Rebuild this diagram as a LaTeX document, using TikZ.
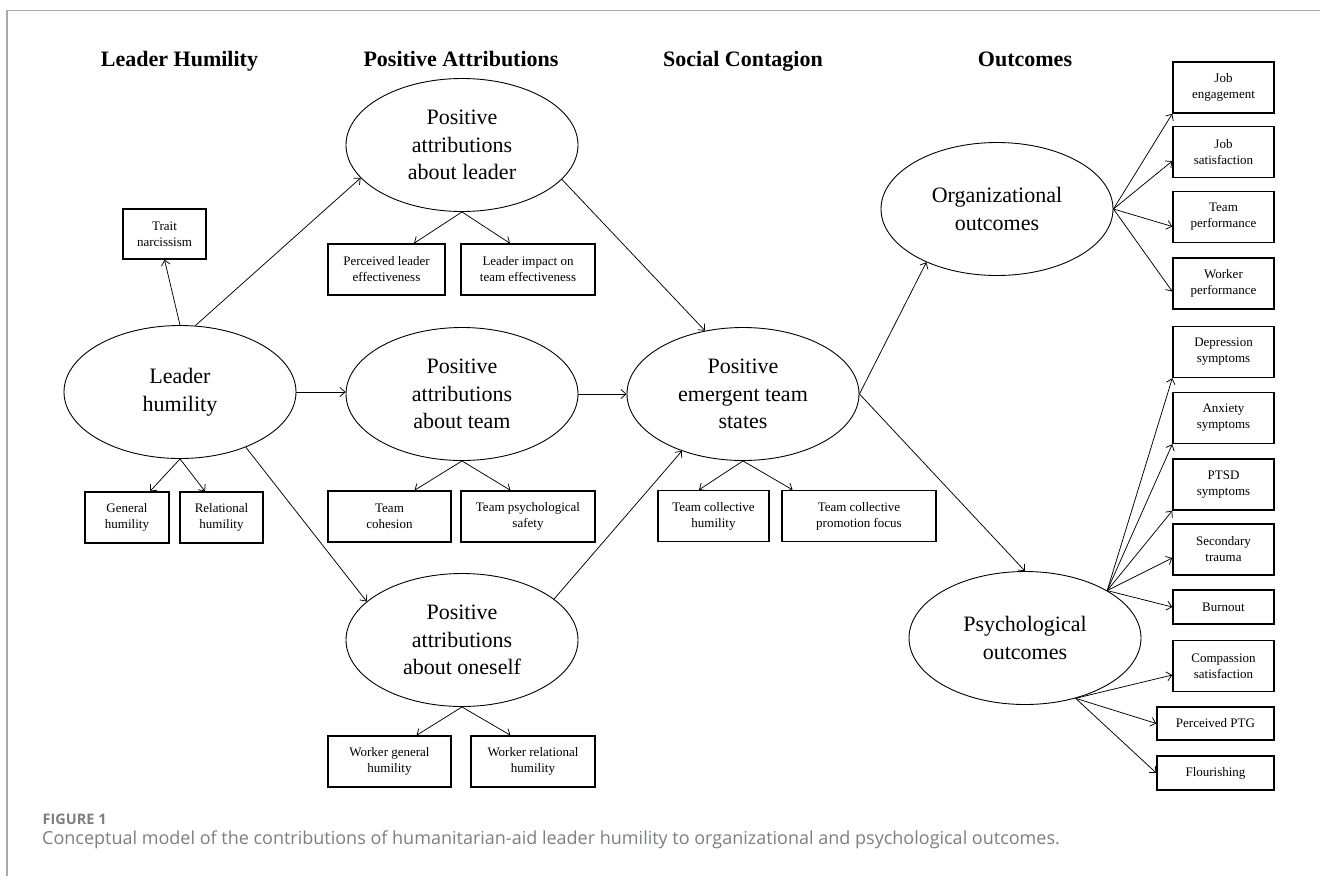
\documentclass[tikz,border=0pt]{standalone}
\usepackage{fontspec}
\setmainfont{Liberation Serif}
\newfontfamily\capfont{Open Sans}
\usepackage{tikz}
\usetikzlibrary{arrows.meta,shapes.geometric}
\definecolor{frameGray}{HTML}{A7A9AC}
\definecolor{capGray}{HTML}{7D7E81}
\tikzset{
  latentVar/.style={draw, ellipse, line width=0.9pt, minimum width=232pt, minimum height=133pt,
    inner sep=0pt, align=center, font=\fontsize{22}{27.5}\selectfont},
  measureBox/.style={draw, rectangle, line width=1.4pt, minimum height=51pt, inner sep=1pt,
    align=center, font=\fontsize{13}{16}\selectfont},
  stageLabel/.style={anchor=base, font=\bfseries\fontsize{22}{26}\selectfont},
  pathArrow/.style={-{Straight Barb[length=5pt,width=9pt]}, line width=0.75pt},
  frameLine/.style={draw=frameGray, line width=1.5pt}
}

\begin{document}
\begin{tikzpicture}[x=1pt,y=-1pt]
  \useasboundingbox (0,0) rectangle (1320,876);
  \draw[frameLine] (7,876) -- (7,10.5) -- (1320,10.5);

  % stage headings
  \node[stageLabel] (hLeader) at (179.5,66.5) {Leader Humility};
  \node[stageLabel] (hAttrib) at (461,66.5) {Positive Attributions};
  \node[stageLabel] (hContag) at (743,66.5) {Social Contagion};
  \node[stageLabel] (hOutcome) at (1025,66.5) {Outcomes};

  % latent constructs
  \node[latentVar] (LH) at (180,392) {Leader\\humility};
  \node[latentVar] (PAL) at (462,145) {Positive\\attributions\\about leader};
  \node[latentVar] (PAT) at (462,394) {Positive\\attributions\\about team};
  \node[latentVar] (PAO) at (462,640) {Positive\\attributions\\about oneself};
  \node[latentVar] (PETS) at (743,394) {Positive\\emergent team\\states};
  \node[latentVar] (OO) at (997,209) {Organizational\\outcomes};
  \node[latentVar] (PO) at (1025,638) {Psychological\\outcomes};

  % indicators
  \node[measureBox, minimum width=83pt, minimum height=50pt] (trait) at (164.5,234) {Trait\\narcissism};
  \node[measureBox, minimum width=84pt] (genHum) at (127,517.5) {General\\humility};
  \node[measureBox, minimum width=83pt] (relHum) at (221.5,517.5) {Relational\\humility};
  \node[measureBox, minimum width=117pt] (plEff) at (386.5,269.5) {Perceived leader\\effectiveness};
  \node[measureBox, minimum width=134pt] (liEff) at (528,269.5) {Leader impact on\\team effectiveness};
  \node[measureBox, minimum width=123pt] (cohesion) at (389.5,516.5) {Team\\cohesion};
  \node[measureBox, minimum width=134pt] (psySafe) at (528,516.5) {Team psychological\\safety};
  \node[measureBox, minimum width=123pt] (wGenHum) at (389.5,761.5) {Worker general\\humility};
  \node[measureBox, minimum width=124pt] (wRelHum) at (533,761.5) {Worker relational\\humility};
  \node[measureBox, minimum width=111pt] (colHum) at (713.5,516) {Team collective\\humility};
  \node[measureBox, minimum width=154pt] (promFocus) at (859,516) {Team collective\\promotion focus};

  \node[measureBox, minimum width=101pt] (jobEng) at (1223.5,87.5) {Job\\engagement};
  \node[measureBox, minimum width=101pt] (jobSat) at (1223.5,152) {Job\\satisfaction};
  \node[measureBox, minimum width=101pt] (teamPerf) at (1223.5,217) {Team\\performance};
  \node[measureBox, minimum width=101pt] (workPerf) at (1223.5,283.5) {Worker\\performance};
  \node[measureBox, minimum width=101pt] (depr) at (1223.5,352) {Depression\\symptoms};
  \node[measureBox, minimum width=101pt] (anx) at (1223.5,418) {Anxiety\\symptoms};
  \node[measureBox, minimum width=101pt] (ptsd) at (1223.5,484.5) {PTSD\\symptoms};
  \node[measureBox, minimum width=101pt] (secTr) at (1223.5,549.5) {Secondary\\trauma};
  \node[measureBox, minimum width=101pt, minimum height=34pt] (burnout) at (1223.5,607) {Burnout};
  \node[measureBox, minimum width=101pt] (compSat) at (1223.5,666) {Compassion\\satisfaction};
  \node[measureBox, minimum width=117pt, minimum height=33pt] (ptg) at (1215.5,723.5) {Perceived PTG};
  \node[measureBox, minimum width=117pt, minimum height=34pt] (flour) at (1215.5,773) {Flourishing};

  % structural paths
  \draw[pathArrow] (LH.north) -- (trait.south);
  \draw[pathArrow] (LH.77) -- (PAL.198);
  \draw[pathArrow] (LH.east) -- (LH.east -| PAT.west);
  \draw[pathArrow] (LH.320) -- (PAO.158);
  \draw[pathArrow] (PAL.341) -- (PETS.121);
  \draw[pathArrow] (PAT.east) -- (PETS.west);
  \draw[pathArrow] (PAO.24) -- (PETS.223);
  \draw[pathArrow] (PETS.east) -- (OO.217);
  \draw[pathArrow] (PETS.east) -- (PO.north);

  % measurement paths
  \draw[pathArrow] (LH.south) -- ([xshift=23pt]genHum.north);
  \draw[pathArrow] (LH.south) -- ([xshift=-16.5pt]relHum.north);
  \draw[pathArrow] (PAL.south) -- ([xshift=27.5pt]plEff.north);
  \draw[pathArrow] (PAL.south) -- ([xshift=-18pt]liEff.north);
  \draw[pathArrow] (PAT.south) -- ([xshift=25pt]cohesion.north);
  \draw[pathArrow] (PAT.south) -- ([xshift=-17.5pt]psySafe.north);
  \draw[pathArrow] (PAO.south) -- ([xshift=27pt]wGenHum.north);
  \draw[pathArrow] (PAO.south) -- ([xshift=-22.5pt]wRelHum.north);
  \draw[pathArrow] (PETS.south) -- ([xshift=-14.5pt]colHum.north);
  \draw[pathArrow] (PETS.south) -- ([xshift=-66.5pt]promFocus.north);

  \draw[pathArrow] (OO.east) -- (jobEng.south west);
  \draw[pathArrow] (OO.east) -- ([yshift=-9pt]jobSat.west);
  \draw[pathArrow] (OO.east) -- ([yshift=-9.5pt]teamPerf.west);
  \draw[pathArrow] (OO.east) -- ([yshift=-8pt]workPerf.west);

  \draw[pathArrow] (PO.30) -- (depr.south west);
  \draw[pathArrow] (PO.30) -- (anx.south west);
  \draw[pathArrow] (PO.30) -- (ptsd.south west);
  \draw[pathArrow] (PO.30) -- ([yshift=-8.5pt]secTr.west);
  \draw[pathArrow] (PO.30) -- (burnout.west);
  \draw[pathArrow] (PO.310) -- ([yshift=-9pt]compSat.west);
  \draw[pathArrow] (PO.310) -- (ptg.west);
  \draw[pathArrow] (PO.310) -- (flour.west);

  % caption
  \node[anchor=base west, inner sep=0pt, text=capGray, font=\capfont\bfseries\fontsize{14.5}{17}\selectfont] (figNum) at (42.5,824) {FIGURE 1};
  \node[anchor=base west, inner sep=0pt, text=capGray, font=\capfont\fontsize{18}{21}\selectfont] (figCap) at (42,844)
    {Conceptual model of the contributions of humanitarian-aid leader humility to organizational and psychological outcomes.};
\end{tikzpicture}
\end{document}
